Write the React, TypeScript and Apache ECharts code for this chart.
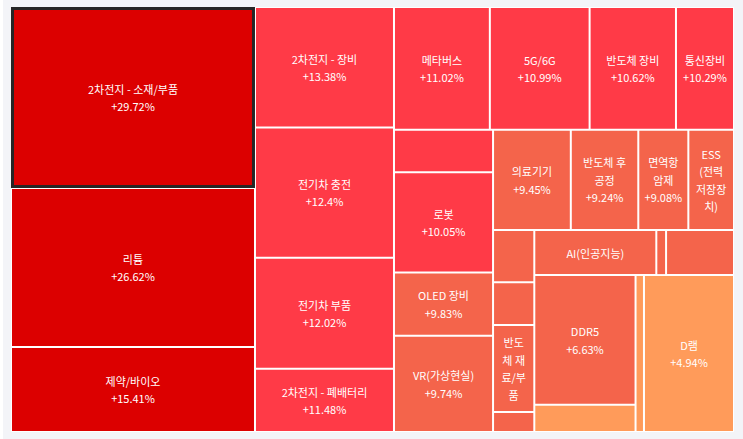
import React, { useEffect, useRef } from 'react';
import * as echarts from 'echarts';

// Themes, in the order the heatmap lists them (by daily change, descending)
const names = [
  '2차전지 - 소재/부품', '리튬', '제약/바이오',
  '2차전지 - 장비', '전기차 충전', '전기차 부품', '2차전지 - 폐배터리',
  '메타버스', '5G/6G', '반도체 장비', '통신장비',
  '테마 A', '로봇', 'OLED 장비', 'VR(가상현실)',
  '의료기기', '반도체 후공정', '면역항암제', 'ESS(전력저장장치)',
  '테마 B', '테마 C', '반도체 재료/부품', '테마 D',
  'AI(인공지능)', '테마 E', '테마 F',
  'DDR5', '테마 G',
  '테마 H', 'D램',
];
// daily change, %
const changes = [
  29.72, 26.62, 15.41,
  13.38, 12.4, 12.02, 11.48,
  11.02, 10.99, 10.62, 10.29,
  10.17, 10.05, 9.83, 9.74,
  9.45, 9.24, 9.08, 9.03,
  8.87, 8.51, 8.12, 7.85,
  7.58, 7.21, 6.94,
  6.63, 5.71,
  5.18, 4.94,
];
// size of each theme (area)
const sizes = [
  44164, 38796, 20740,
  16750, 18112, 15429, 8785,
  11764, 12243, 10598, 7122,
  4202, 9940, 6273, 9533,
  7800, 6770, 5020, 4580,
  2154, 1768, 3590, 820,
  5500, 440, 3062,
  13140, 2747,
  1321, 14126,
];
const hiddenLabels = ['테마 A', '테마 B', '테마 C', '테마 D', '테마 E', '테마 F', '테마 G', '테마 H'];
const nameOnlyLabels = ['ESS(전력저장장치)', '반도체 재료/부품', 'AI(인공지능)'];
const labelBreaks: Record<string, string> = { 'ESS(전력저장장치)': 'ESS\n(전력저장장치)' };
const selectedName = '2차전지 - 소재/부품';

const colorFor = (c: number) =>
  c >= 15 ? '#dc0000' : c >= 10 ? '#ff3a47' : c >= 6 ? '#f4644b' : '#ff9b5a';

export default function App() {
  const ref = useRef<HTMLDivElement>(null);
  useEffect(() => {
    const chart = echarts.init(ref.current!, null, { renderer: 'svg' });
    const data = names.map((name, i) => ({
      name,
      value: [sizes[i], changes[i]],
      itemStyle:
        name === selectedName
          ? { color: colorFor(changes[i]), borderColor: '#262626', borderWidth: 3 }
          : { color: colorFor(changes[i]) },
    }));
    chart.setOption({
      animation: false,
      tooltip: { show: false },
      series: [
        {
          type: 'treemap',
          left: 8,
          top: 7,
          width: 723,
          height: 425,
          sort: false,
          roam: false,
          nodeClick: false,
          breadcrumb: { show: false },
          label: {
            show: true,
            position: 'inside',
            color: '#fff',
            fontSize: 11,
            lineHeight: 17.5,
            fontFamily: 'Noto Sans CJK KR',
            overflow: 'break',
            padding: 5,
            formatter: (p: any) => {
              const n = p.name;
              const c = p.data && p.data.value ? p.data.value[1] : 0;
              const shown = labelBreaks[n] || n;
              if (hiddenLabels.includes(n)) return '';
              if (nameOnlyLabels.includes(n)) return shown;
              return `${shown}\n+${c}%`;
            },
          },
          upperLabel: { show: false },
          levels: [
            { itemStyle: { borderWidth: 0, gapWidth: 0 } },
            { itemStyle: { borderWidth: 1, borderColor: '#fff', gapWidth: 0 } },
          ],
          data,
        },
      ],
    });
    return () => chart.dispose();
  }, []);
  return (
    <div style={{ position: 'fixed', left: 0, top: 0, width: 743, height: 439, background: '#fff' }}>
      <div
        ref={ref}
        style={{ position: 'absolute', left: 3, top: 0, width: 740, height: 439, background: '#f3f4f8' }}
      />
    </div>
  );
}
